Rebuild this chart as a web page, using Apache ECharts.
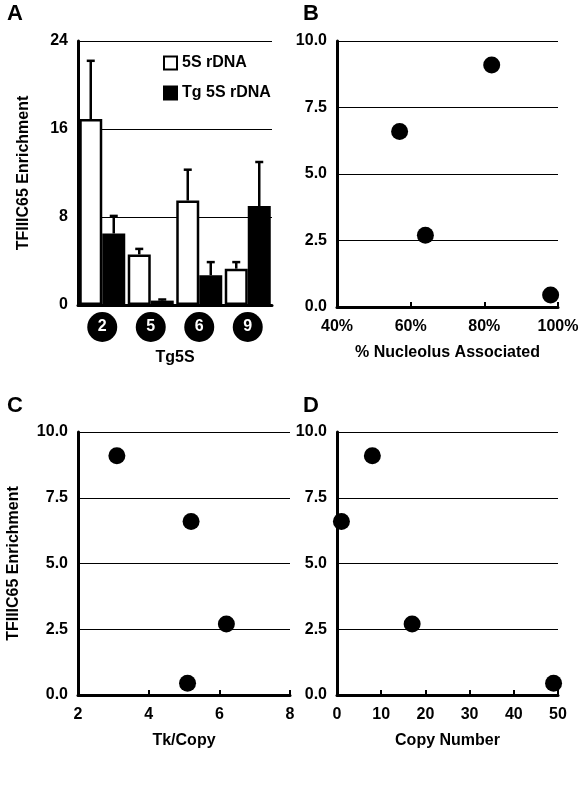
<!DOCTYPE html><html><head><meta charset="utf-8"><script src="https://cdn.jsdelivr.net/npm/echarts@6/dist/echarts.min.js"></script>
<style>body{margin:0;background:#fff}#c{width:588px;height:800px}</style></head><body><div id="c"></div><script>
const cats=['2','5','6','9'];
const s5=[16.9,4.6,9.5,3.3], s5err=[22.2,5.1,12.3,3.9];
const tg=[6.5,0.4,2.7,9.0], tgerr=[8.1,0.5,3.9,13.0];
const enrich=[6.6,2.7,9.1,0.45];
const nucleolus=[57,64,82,98];
const tkcopy=[5.2,6.2,3.1,5.1];
const copyNum=[1,17,8,49];
const F='Liberation Sans';
const ax={axisLine:{show:true,lineStyle:{color:'#000',width:3}},axisTick:{show:false},axisLabel:{color:'#000',fontFamily:F,fontWeight:'bold',fontSize:16},splitLine:{show:false}};
function yv(g,min,max,iv,fmt){return Object.assign({},ax,{type:'value',gridIndex:g,min,max,interval:iv,splitLine:{show:true,lineStyle:{color:'#000',width:1}},axisLabel:Object.assign({},ax.axisLabel,{formatter:fmt,margin:10})});}
function xv(g,min,max,iv,name,fmt){return Object.assign({},ax,{type:'value',gridIndex:g,min,max,interval:iv,name,nameLocation:'middle',nameGap:38,nameTextStyle:{color:'#000',fontFamily:F,fontWeight:'bold',fontSize:16},axisTick:{show:true,length:-5,lineStyle:{width:2,color:'#000'}},axisLabel:Object.assign({},ax.axisLabel,{margin:12,formatter:fmt})});}
const BW=23;
function errSeries(vals,errs,off){return {type:'custom',xAxisIndex:0,yAxisIndex:0,z:1,data:vals.map((v,i)=>[i,v,errs[i]]),renderItem:(p,api)=>{const a=api.coord([api.value(0),api.value(1)]),b=api.coord([api.value(0),api.value(2)]);const x=a[0]+off;return{type:'group',children:[{type:'line',shape:{x1:x,y1:a[1],x2:x,y2:b[1]},style:{stroke:'#000',lineWidth:2.5}},{type:'line',shape:{x1:x-4,y1:b[1],x2:x+4,y2:b[1]},style:{stroke:'#000',lineWidth:2.5}}]};}};}
const sc=(xi,xs,ys)=>({type:'scatter',xAxisIndex:xi,yAxisIndex:xi,symbolSize:17,itemStyle:{color:'#000',opacity:1},data:xs.map((x,i)=>[x,ys[i]])});
const t=(txt,l,tp)=>({text:txt,left:l,top:tp,textStyle:{fontFamily:F,fontWeight:'bold',fontSize:22,color:'#000'}});
const yname={name:'TFIIIC65 Enrichment',nameLocation:'middle',nameGap:56,nameTextStyle:{color:'#000',fontFamily:F,fontWeight:'bold',fontSize:16}};
const chart=echarts.init(document.getElementById('c'));
chart.setOption({animation:false,
title:[t('A',2,-2),t('B',298,-2),t('C',2,390),t('D',298,390)],
legend:{left:158,top:50,orient:'vertical',itemGap:14,itemWidth:13,itemHeight:13,icon:'rect',textStyle:{fontFamily:F,fontWeight:'bold',fontSize:16,color:'#000'},data:['5S rDNA','Tg 5S rDNA']},
grid:[{left:78,top:41,width:194,height:264},{left:337,top:41,width:221,height:266},{left:78,top:432,width:212,height:263},{left:337,top:432,width:221,height:263}],
xAxis:[Object.assign({},ax,{type:'category',gridIndex:0,data:cats,name:'Tg5S',nameLocation:'middle',nameGap:45,nameTextStyle:{color:'#000',fontFamily:F,fontWeight:'bold',fontSize:16},axisLabel:{color:'#fff',fontFamily:F,fontWeight:'bold',fontSize:16,backgroundColor:'#000',borderRadius:15,width:30,height:30,lineHeight:30,align:'center',margin:7}}),
xv(1,40,100,20,'% Nucleolus Associated',v=>v+'%'),xv(2,2,8,2,'Tk/Copy'),xv(3,0,50,10,'Copy Number')],
yAxis:[Object.assign(yv(0,0,24,8),yname,{nameGap:46}),
yv(1,0,10,2.5,v=>v.toFixed(1)),Object.assign(yv(2,0,10,2.5,v=>v.toFixed(1)),yname),yv(3,0,10,2.5,v=>v.toFixed(1))],
series:[errSeries(s5,s5err,-BW/2),errSeries(tg,tgerr,BW/2),
{name:'5S rDNA',type:'bar',barWidth:BW,barGap:'0%',z:2,data:s5,itemStyle:{color:'#fff',borderColor:'#000',borderWidth:2.5}},
{name:'Tg 5S rDNA',type:'bar',barWidth:BW,barGap:'0%',z:2,data:tg,itemStyle:{color:'#000',borderColor:'#000',borderWidth:2.5}},
sc(1,nucleolus,enrich),sc(2,tkcopy,enrich),sc(3,copyNum,enrich)]});
</script></body></html>
